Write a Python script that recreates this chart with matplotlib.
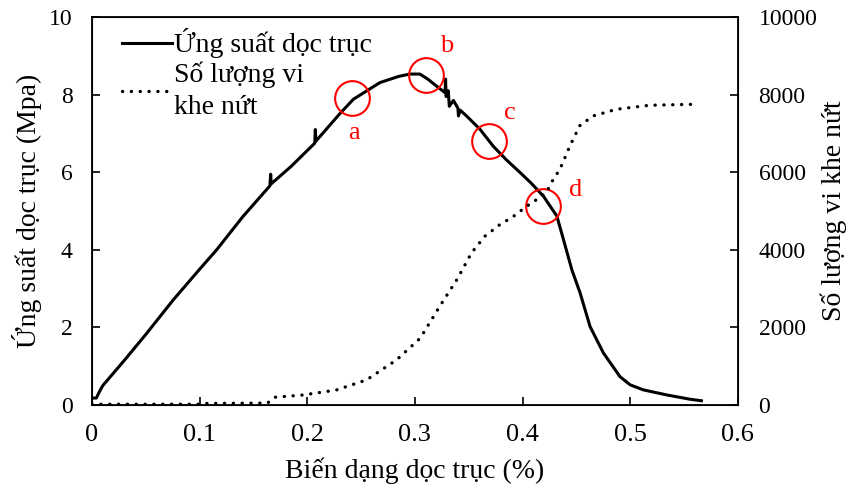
import matplotlib.pyplot as plt

plt.rcParams['font.family'] = ['Liberation Serif', 'DejaVu Serif']

# axial stress curve (strain %, stress MPa)
strain = [0, 0.004, 0.007, 0.01, 0.03, 0.05, 0.0755, 0.1, 0.1158, 0.14, 0.1653,
          0.166, 0.1665, 0.185, 0.207, 0.2075, 0.208, 0.23, 0.2428, 0.2675, 0.285,
          0.2954, 0.3046, 0.312, 0.3201, 0.328, 0.3285, 0.329, 0.331, 0.332, 0.3358,
          0.340, 0.3405, 0.342, 0.348, 0.3604, 0.3728, 0.385, 0.3978, 0.408, 0.4195,
          0.4319, 0.4381, 0.4458, 0.4535, 0.4628, 0.4752, 0.4906, 0.5, 0.5123,
          0.534, 0.5554, 0.5662]
stress = [0.18, 0.18, 0.35, 0.5, 1.15, 1.82, 2.71, 3.5, 4.0, 4.85, 5.65,
          5.95, 5.7, 6.15, 6.75, 7.1, 6.8, 7.5, 7.88, 8.31, 8.47,
          8.53, 8.53, 8.4, 8.22, 8.05, 8.4, 7.95, 8.1, 7.7, 7.85,
          7.65, 7.45, 7.6, 7.45, 7.11, 6.67, 6.32, 5.99, 5.72, 5.38,
          4.87, 4.26, 3.49, 2.89, 2.02, 1.34, 0.73, 0.52, 0.39,
          0.26, 0.15, 0.11]

# micro crack count
strain_c = [0, 0.1, 0.105, 0.163, 0.17, 0.196, 0.227, 0.255, 0.283, 0.305, 0.323,
            0.339, 0.3526, 0.365, 0.379, 0.391, 0.404, 0.415, 0.422, 0.4285, 0.4347,
            0.444, 0.4532, 0.4656, 0.4873, 0.518, 0.5616]
cracks = [20, 20, 40, 50, 200, 258, 387, 646, 1163, 1723, 2540,
          3230, 3920, 4350, 4651, 4850, 5124, 5330, 5470, 5814, 6072,
          6674, 7200, 7450, 7623, 7726, 7752]

# marked points a-d
mark_x = [0.2415, 0.310, 0.369, 0.4189]
mark_y = [7.91, 8.50, 6.80, 5.12]
mark_lbl = ['a', 'b', 'c', 'd']
lbl_x = [0.2433, 0.3297, 0.3882, 0.4495]
lbl_y = [7.0, 9.25, 7.52, 5.55]

fig = plt.figure(figsize=(8.48, 4.92), dpi=100)
ax = fig.add_axes([0.1085, 0.1768, 0.7615, 0.7886])
ax2 = ax.twinx()

l1, = ax.plot(strain, stress, color='black', lw=2.2)
l2, = ax2.plot(strain_c, cracks, color='black', lw=2.4, linestyle=(0, (0.05, 2.6)),
               dash_capstyle='round')

ax.plot(mark_x, mark_y, 'o', ms=25, mfc='none', mec='red', mew=1.5)
for x, y, t in zip(lbl_x, lbl_y, mark_lbl):
    ax.text(x, y, t, color='red', fontsize=19, ha='center', va='center')

ax.set_xlim(0, 0.6)
ax.set_ylim(0, 10)
ax2.set_ylim(0, 10000)
ax.set_xticks([0, 0.1, 0.2, 0.3, 0.4, 0.5, 0.6])
ax.set_xticklabels(['0', '0.1', '0.2', '0.3', '0.4', '0.5', '0.6'])
ax.set_yticks([0, 2, 4, 6, 8, 10])
ax2.set_yticks([0, 2000, 4000, 6000, 8000, 10000])

ax.tick_params(axis='x', direction='in', length=6, width=1.2, labelsize=19, pad=14)
ax.tick_params(axis='y', direction='in', length=6, width=1.2, labelsize=17, pad=14)
ax2.tick_params(direction='in', length=6, width=1.2, labelsize=17, pad=15)
for sp in ax.spines.values():
    sp.set_linewidth(1.3)

ax.set_xlabel('Biến dạng dọc trục (%)', fontsize=20, labelpad=8)
ax.set_ylabel('Ứng suất dọc trục (Mpa)', fontsize=20, labelpad=5)
ax2.set_ylabel('Số lượng vi khe nứt', fontsize=20, labelpad=2)

leg = ax.legend([l1, l2], ['Ứng suất dọc trục', 'Số lượng vi\nkhe nứt'], loc='upper left',
                bbox_to_anchor=(0.008, 1.035), frameon=False, fontsize=20, handlelength=1.8,
                handletextpad=0.05, labelspacing=0.1)
for t in leg.get_texts():
    t.set_linespacing(1.4)

fig.savefig('out.png', dpi=100)
